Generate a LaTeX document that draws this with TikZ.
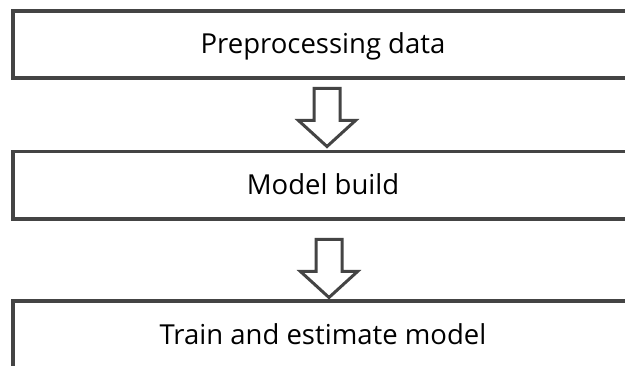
\documentclass[tikz,border=0pt]{standalone}
\usepackage{fontspec}
\setmainfont{Open Sans}
\begin{document}
\begin{tikzpicture}[x=1pt,y=1pt,
  stepbox/.style={draw=boxgray, line width=3.5pt, rectangle, minimum width=620pt,
    font=\fontsize{27.5}{31}\selectfont, text=black, text height=19pt, text depth=1pt},
  arrowline/.style={draw=boxgray, line width=3pt, fill=white, line join=miter},
  downarrow/.pic={
    \draw[arrowline] (-13,0) -- (13,0) -- (13,-32) -- (28.5,-32) -- (0,-58)
      -- (-28.5,-32) -- (-13,-32) -- cycle;
  }]
\definecolor{boxgray}{HTML}{444444}
\useasboundingbox (0,0) rectangle (625,-366);
\clip (0,0) rectangle (625,-366);
\fill[white] (0,0) rectangle (625,-366);

% process steps
\node[stepbox, minimum height=67pt]   (prep)  at (323,-44.5)  {Preprocessing data};
\node[stepbox, minimum height=67.5pt] (build) at (323,-185.25) {Model build};
\node[stepbox, minimum height=70pt]   (train) at (323,-336)   {Train and estimate model};

% hollow block arrows between the steps
\pic at (327,-88.5) {downarrow};
\pic at (329,-239.5) {downarrow};
\end{tikzpicture}
\end{document}
